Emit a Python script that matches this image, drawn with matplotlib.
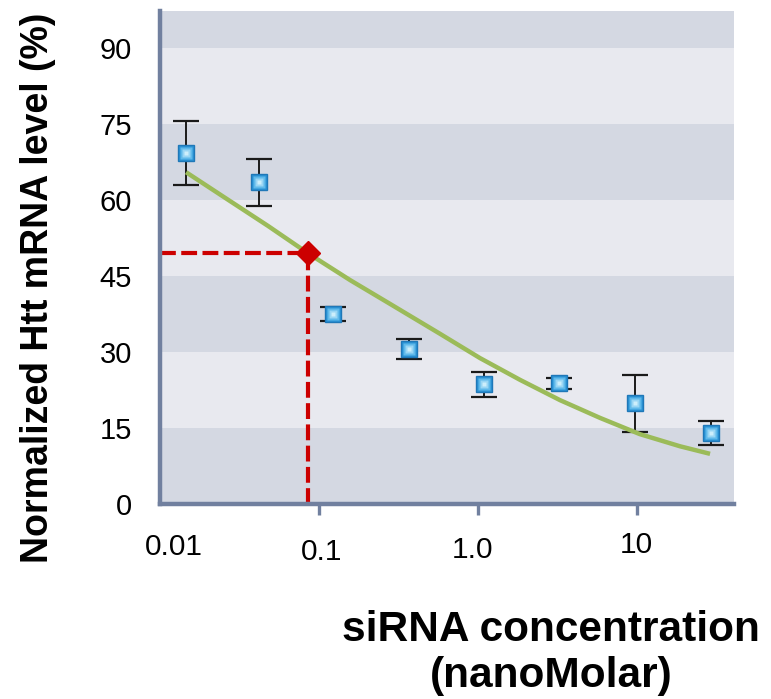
import matplotlib.pyplot as plt
import matplotlib.transforms as mtransforms

plt.rcParams['font.family'] = ['Liberation Sans', 'DejaVu Sans']

conc = [0.0145, 0.0419, 0.1225, 0.368, 1.09, 3.23, 9.71, 29.1]
level = [69.3, 63.5, 37.5, 30.6, 23.6, 23.8, 19.9, 14.0]
err = [6.4, 4.6, 1.3, 2.0, 2.5, 1.0, 5.6, 2.3]

# fitted curve, points
fit_x = [0.0146, 0.0264, 0.0478, 0.0853, 0.157, 0.280, 0.577, 1.03, 1.84, 3.28,
         5.85, 10.4, 18.6, 28.8]
fit_y = [65.5, 60.2, 54.9, 49.5, 44.2, 39.5, 33.6, 28.8, 24.5, 20.5,
         17.0, 13.8, 11.4, 9.9]

# IC50 marker
ic50_x = 0.0856
ic50_y = 49.5

y_ticks = [0, 15, 30, 45, 60, 75, 90]
x_ticks = [0.01, 0.1, 1.0, 10]
x_labels = ['0.01', '0.1', '1.0', '10']

spine_col = '#71809f'
dark_band = '#d4d8e2'
light_band = '#e8e9ef'

fig = plt.figure(figsize=(7.71, 6.99), dpi=100)
ax = fig.add_axes([0.2075, 0.279, 0.744, 0.705])

xmin, xmax = 0.01, 40.5
ymin, ymax = 0, 97.3
ax.set_xscale('log')
ax.set_xlim(xmin, xmax)
ax.set_ylim(ymin, ymax)

# alternating horizontal bands
bounds = y_ticks + [ymax]
for i in range(len(bounds) - 1):
    ax.axhspan(bounds[i], bounds[i + 1], color=dark_band if i % 2 == 0 else light_band,
               lw=0, zorder=0)

# red dashed guides to the IC50 point
dash = (0, (3.8, 1.3))
ax.plot([xmin, ic50_x], [ic50_y, ic50_y], color='#cc0000', lw=3, ls=dash,
        zorder=2, dash_capstyle='butt')
ax.plot([ic50_x, ic50_x], [ymin, ic50_y], color='#cc0000', lw=3, ls=dash,
        zorder=2, dash_capstyle='butt')

ax.errorbar(conc, level, yerr=err, fmt='none', ecolor='#1a1a1a', elinewidth=1.4,
            capsize=9.5, capthick=1.6, zorder=3)

ax.plot(fit_x, fit_y, color='#9bbb59', lw=3.2, zorder=4, solid_capstyle='butt',
        solid_joinstyle='round')

ax.plot([ic50_x], [ic50_y], marker='D', ms=12.5, color='#cc0000', mec='#cc0000',
        ls='none', zorder=6)

# square markers with a simple radial shading
ax.plot(conc, level, 's', ms=11.8, mfc='#2b93d5', mec='#1f78b8', mew=1.0, ls='none', zorder=5)
ax.plot(conc, level, 's', ms=8.5, mfc='#5fb9ea', mec='none', ls='none', zorder=5)
ax.plot(conc, level, 's', ms=6.0, mfc='#9ad6f4', mec='none', ls='none', zorder=5)
ax.plot(conc, level, 's', ms=3.5, mfc='#cdeefb', mec='none', ls='none', zorder=5)

for s in ['top', 'right']:
    ax.spines[s].set_visible(False)
for s in ['left', 'bottom']:
    ax.spines[s].set_color(spine_col)
    ax.spines[s].set_linewidth(3.2)

ax.set_yticks(y_ticks)
ax.set_yticklabels([str(v) for v in y_ticks], fontsize=21)
ax.tick_params(axis='y', length=0, pad=20)

ax.set_xticks(x_ticks)
ax.set_xticklabels(x_labels, fontsize=21.5)
ax.xaxis.set_minor_locator(plt.NullLocator())
ax.tick_params(axis='x', length=8, width=2.4, color=spine_col, direction='out', pad=13)
ax.xaxis.get_major_ticks()[0].tick1line.set_visible(False)

# nudge x labels like the original text boxes
shifts = [(10, 0), (1.8, -3.6), (-4.3, -2.2), (-0.7, 1.4)]
for lab, (dx, dy) in zip(ax.get_xticklabels(), shifts):
    lab.set_transform(lab.get_transform() +
                      mtransforms.ScaledTranslation(dx / 72, dy / 72, fig.dpi_scale_trans))

fig.text(38 / 771, 1 - 288 / 699, 'Normalized Htt mRNA level (%)', rotation=90,
         ha='center', va='center', fontsize=27, fontweight='bold')
fig.text(551 / 771, 1 - 653 / 699, 'siRNA concentration\n(nanoMolar)', ha='center',
         va='center', fontsize=30.5, fontweight='bold', linespacing=1.2)

fig.savefig('out.png', dpi=100)
